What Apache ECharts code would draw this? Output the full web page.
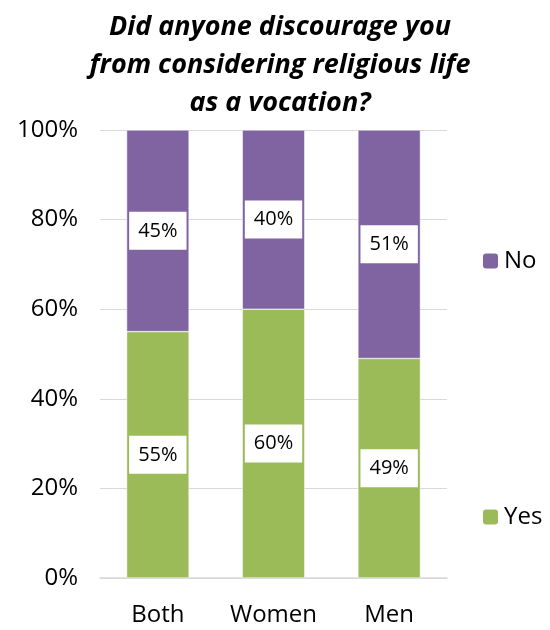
<!DOCTYPE html>
<html>
<head>
<meta charset="utf-8">
<script src="https://cdn.jsdelivr.net/npm/echarts@6/dist/echarts.min.js"></script>
<style>
  html, body { margin: 0; padding: 0; background: #fff; }
  #chart { width: 550px; height: 630px; }
</style>
</head>
<body>
<div id="chart"></div>
<script>
// chart data
const categories = ["Both", "Women", "Men"];
const yesValues = [55, 60, 49];
const noValues = [45, 40, 51];
const yTicks = [0, 20, 40, 60, 80, 100];

const font = "'Open Sans', 'Liberation Sans', sans-serif";
const chart = echarts.init(document.getElementById("chart"));

const labelOption = {
  show: true,
  position: "inside",
  formatter: (p) => p.value + "%",
  backgroundColor: "#fff",
  color: "#000",
  fontFamily: font,
  fontSize: 20,
  lineHeight: 24,
  padding: [7, 9, 7, 9],
};

const legendText = { fontFamily: font, fontSize: 24, color: "#000" };

chart.setOption({
  animation: false,
  title: {
    text: "Did anyone discourage you\nfrom considering religious life\nas a vocation?",
    left: 275,
    textAlign: "center",
    top: 3,
    textStyle: {
      fontFamily: font,
      fontSize: 27,
      fontWeight: "bold",
      fontStyle: "italic",
      color: "#000",
      lineHeight: 38,
    },
  },
  legend: [
    {
      data: ["No"],
      left: 476,
      top: 244,
      itemWidth: 17,
      itemHeight: 17,
      itemGap: 8,
      textStyle: legendText,
    },
    {
      data: ["Yes"],
      left: 476,
      top: 500,
      itemWidth: 17,
      itemHeight: 17,
      itemGap: 8,
      textStyle: legendText,
    },
  ],
  grid: {
    left: 100,
    right: 103,
    top: 130,
    bottom: 52,
    containLabel: false,
  },
  xAxis: {
    type: "category",
    data: categories,
    axisLine: { lineStyle: { color: "#d9d9d9", width: 1.5 } },
    axisTick: { show: false },
    axisLabel: {
      fontFamily: font,
      fontSize: 24,
      color: "#000",
      margin: 25,
    },
  },
  yAxis: {
    type: "value",
    min: 0,
    max: 100,
    interval: 20,
    axisLine: { show: false },
    axisTick: { show: false },
    splitLine: { lineStyle: { color: "#d9d9d9", width: 1 } },
    axisLabel: {
      fontFamily: font,
      fontSize: 24,
      color: "#000",
      margin: 22,
      formatter: (v) => (yTicks.includes(v) ? v + "%" : ""),
    },
  },
  series: [
    {
      name: "Yes",
      type: "bar",
      stack: "total",
      barWidth: "54%",
      data: yesValues,
      itemStyle: { color: "#9BBB59", borderColor: "#fff", borderWidth: 0.5 },
      label: labelOption,
    },
    {
      name: "No",
      type: "bar",
      stack: "total",
      barWidth: "54%",
      data: noValues,
      itemStyle: { color: "#8064A2", borderColor: "#fff", borderWidth: 0.5 },
      label: labelOption,
    },
  ],
});
</script>
</body>
</html>
